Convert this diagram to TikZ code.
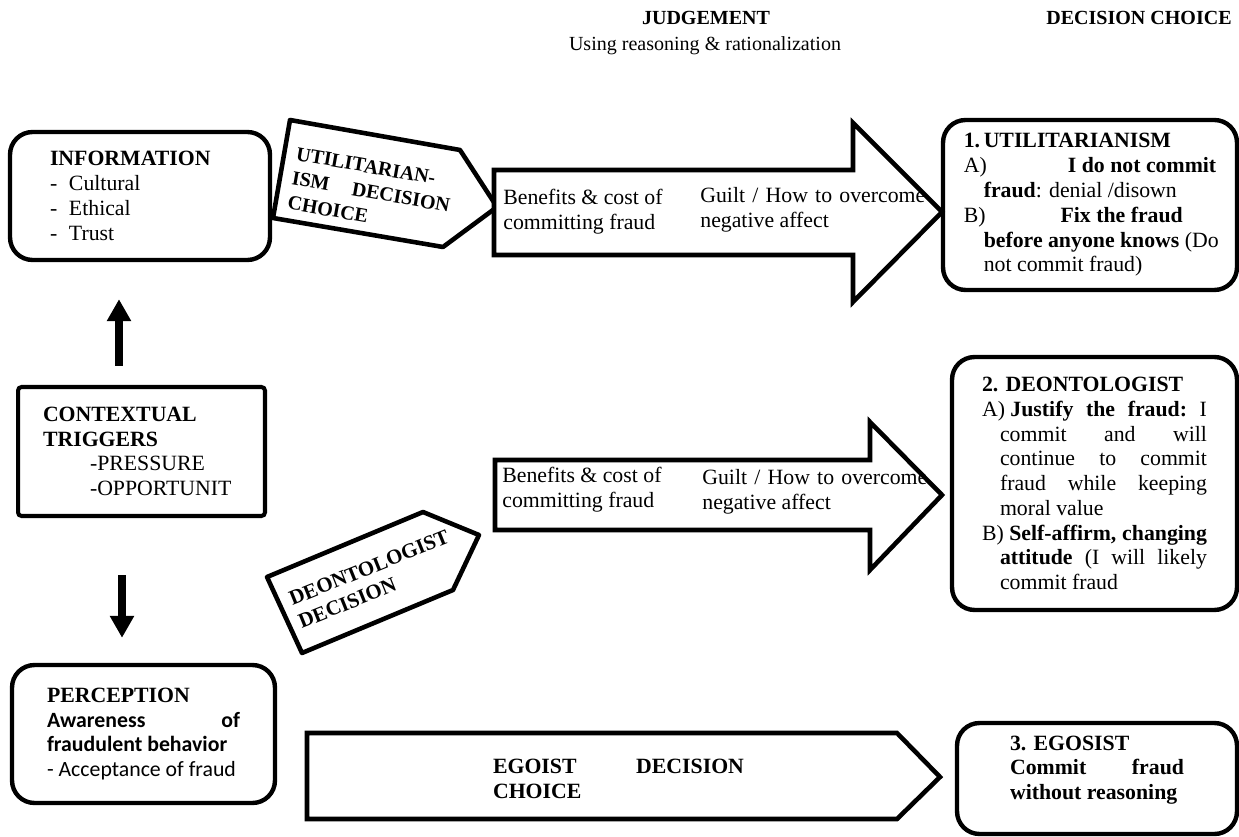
\documentclass[tikz,border=0pt]{standalone}
\usepackage{fontspec}
\setmainfont{Liberation Serif}
\newfontfamily\calibrifont{Carlito}
\usepackage{tikz}
\usetikzlibrary{positioning, arrows.meta, calc}

\newcommand{\figfont}{\fontsize{12.4}{14.1}\selectfont}
\newcommand{\headfont}{\fontsize{11.4}{13.5}\selectfont}
\newcommand{\subind}[1]{\hspace*{#1}}

\tikzset{
    infobox/.style={
        rectangle, draw=black, line width=2.5pt,
        rounded corners=0.45cm, inner sep=0pt
    },
    triggerbox/.style={
        rectangle, draw=black, line width=2.3pt,
        rounded corners=2pt, inner sep=0pt
    },
    bigarrow/.style={
        draw=black, line width=2.6pt, fill=white, line join=miter
    },
    tagshape/.style={
        draw=black, line width=2.6pt, fill=white, line join=round
    },
    tagtext/.style={
        align=left, inner sep=0pt, font=\figfont\bfseries
    },
    lift/.style={
        line width=4pt, -{Triangle[width=0.46cm,length=0.44cm]}
    }
}

\begin{document}
\begin{tikzpicture}[
    x=0.02cm, y=-0.02cm,
    every node/.style={font=\figfont}
]
\useasboundingbox (0,0) rectangle (1239,837);

% headings
\node[font=\headfont\bfseries] (judge) at (706,18) {JUDGEMENT};
\node[font=\headfont] (judgesub) at (705,46) {Using reasoning \& rationalization};
\node[font=\headfont\bfseries] (choice) at (1139,18) {DECISION CHOICE};

% left column
\node[infobox, minimum width=5.2cm, minimum height=2.56cm] (info) at (140,196)
    {\parbox{3.6cm}{\textbf{INFORMATION}\\
     \makebox[0.38cm][l]{-}Cultural\\
     \makebox[0.38cm][l]{-}Ethical\\
     \makebox[0.38cm][l]{-}Trust}};
\node[triggerbox, minimum width=4.94cm, minimum height=2.58cm] (ctx) at (141.5,451.5)
    {\parbox{3.94cm}{\textbf{CONTEXTUAL}\\
     \textbf{TRIGGERS}\\
     \subind{0.94cm}-PRESSURE\\
     \subind{0.94cm}-OPPORTUNIT}};
\node[infobox, minimum width=5.26cm, minimum height=2.76cm] (perc) at (143.5,734)
    {\parbox{3.86cm}{\textbf{PERCEPTION}\\
     {\calibrifont\bfseries Awareness\hfill of}\\
     {\calibrifont\bfseries fraudulent behavior}\\
     {\calibrifont - Acceptance of fraud}}};

\draw[lift, shorten <=0.38cm, shorten >=0.74cm]
    ($(ctx.north)+(-22.5,0)$) -- ($(ctx.north |- info.south)+(-22.5,0)$);
\draw[lift, shorten <=1.14cm, shorten >=0.5cm]
    ($(ctx.south)+(-19.5,0)$) -- ($(ctx.south |- perc.north)+(-19.5,0)$);

% decision tags
\draw[tagshape] (290,120) -- (460,150) -- (497,207) -- (443,247) -- (273,218) -- cycle;
\node[tagtext, font=\fontsize{11.4}{14.1}\selectfont\bfseries, rotate=-10,
      text width=3.2cm] (utiltag) at (371,192)
    {UTILITARIAN-\\ ISM\hfill DECISION\\ CHOICE};
\draw[tagshape] (267,577) -- (423,512) -- (479,535) -- (453,590) -- (302,653) -- cycle;
\node[tagtext, font=\fontsize{11.9}{14.1}\selectfont\bfseries, rotate=22,
      text width=3.42cm] (deontag) at (374,579)
    {DEONTOLOGIST\\ DECISION};

% judgement arrows
\draw[bigarrow] (494,170) -- (853,170) -- (853,123) -- (942,212)
    -- (853,302) -- (853,255) -- (494,255) -- cycle;
\node[anchor=west, align=left, inner sep=0pt] (cost1) at (503,212)
    {Benefits \& cost of\\ committing fraud};
\node[anchor=west, align=left, inner sep=0pt] (guilt1) at (700,209.5)
    {\makebox[4.5cm][s]{Guilt / How to overcome}\\ negative affect};

\draw[bigarrow] (495,460) -- (870,460) -- (870,422) -- (942,495)
    -- (870,570) -- (870,530) -- (495,530) -- cycle;
\node[anchor=west, align=left, inner sep=0pt] (cost2) at (502,489.5)
    {Benefits \& cost of\\ committing fraud};
\node[anchor=west, align=left, inner sep=0pt] (guilt2) at (702,491.5)
    {\makebox[4.5cm][s]{Guilt / How to overcome}\\ negative affect};

\draw[bigarrow] (307,733) -- (897,733) -- (940,777) -- (897,819) -- (307,819) -- cycle;
\node[tagtext, text width=5.02cm] (egotag) at (618.5,779)
    {EGOIST\hfill DECISION\\ CHOICE};

% decision choices
\node[infobox, minimum width=5.88cm, minimum height=3.4cm] (util) at (1090,205)
    {\parbox{5.05cm}{\textbf{1.\,UTILITARIANISM}\\
     A)\hfill\textbf{I do not commit}\\
     \subind{0.4cm}\textbf{fraud}: denial /disown\\
     B)\hspace{1.5cm}\textbf{Fix the fraud}\\
     \subind{0.4cm}\mbox{\textbf{before anyone knows} (Do}\\
     \subind{0.4cm}not commit fraud)}};
\node[infobox, minimum width=5.7cm, minimum height=5.06cm] (deon) at (1094.5,483.5)
    {\parbox{4.5cm}{\textbf{2. DEONTOLOGIST}\\
     A) \textbf{Justify\hfill the\hfill fraud:}\hfill I\\
     \subind{0.36cm}commit\hfill and\hfill will\\
     \subind{0.36cm}continue\hfill to\hfill commit\\
     \subind{0.36cm}fraud\hfill while\hfill keeping\\
     \subind{0.36cm}moral value\\
     B) \textbf{Self-affirm,\hfill changing}\\
     \subind{0.36cm}\textbf{attitude}\hfill (I\hfill will\hfill likely\\
     \subind{0.36cm}commit fraud}};
\node[infobox, minimum width=5.6cm, minimum height=2.22cm] (ego) at (1097,778.5)
    {\parbox{3.48cm}{\textbf{3. EGOSIST}\\
     \textbf{Commit\hfill fraud}\\
     \textbf{without reasoning}\par\vspace{0.34cm}}};

\end{tikzpicture}
\end{document}
